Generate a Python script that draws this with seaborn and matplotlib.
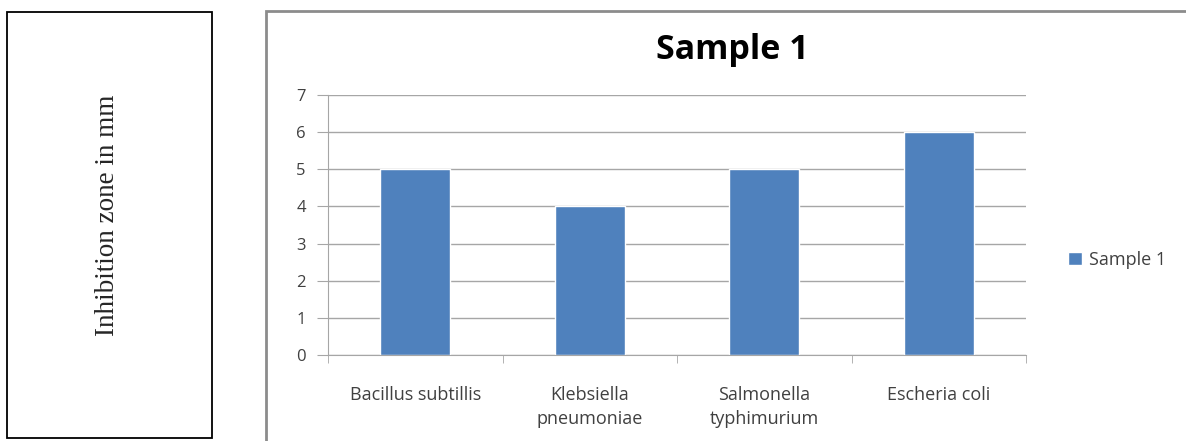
import matplotlib
matplotlib.use("Agg")
import matplotlib.pyplot as plt
import seaborn as sns
import pandas as pd
from matplotlib.patches import Rectangle

organisms = ["Bacillus subtillis", "Klebsiella\npneumoniae",
             "Salmonella\ntyphimurium", "Escheria coli"]
zone_mm = [5, 4, 5, 6]
series_name = "Sample 1"
y_ticks = [0, 1, 2, 3, 4, 5, 6, 7]

df = pd.DataFrame({"organism": organisms, "zone": zone_mm})

sns.set_style("white")
plt.rcParams["font.family"] = ["Open Sans", "DejaVu Sans"]

W, H = 1186, 441
fig = plt.figure(figsize=(W / 100, H / 100), dpi=100)

# left label box
fig.patches.append(Rectangle((7 / W, 1 - 438 / H), 205 / W, 426 / H,
                             transform=fig.transFigure, fill=False,
                             edgecolor="black", linewidth=1.3))
fig.text(107 / W, 1 - 215 / H, "Inhibition zone in mm", rotation=90,
         ha="center", va="center", fontsize=19.5,
         family=["Liberation Serif", "DejaVu Serif"])

# chart frame
fig.patches.append(Rectangle((266 / W, -0.05), 1.0, 1 - 11 / H + 0.05,
                             transform=fig.transFigure, fill=False,
                             edgecolor="#8c8c8c", linewidth=2))

ax = fig.add_axes([328 / W, 86 / H, 698 / W, 260 / H])
sns.barplot(data=df, x="organism", y="zone", color="#4F81BD",
            width=0.4, saturation=1, label=series_name, ax=ax)

ax.set_ylim(0, 7)
ax.set_xlim(-0.5, len(organisms) - 0.5)
ax.set_yticks(y_ticks)
ax.yaxis.grid(True, color="#a6a6a6", linewidth=1)
ax.set_axisbelow(True)
for s in ["top", "right"]:
    ax.spines[s].set_visible(False)
ax.spines["left"].set_color("#a6a6a6")
ax.spines["bottom"].set_color("#a6a6a6")
ax.tick_params(axis="y", left=True, length=8, color="#a6a6a6",
               labelsize=12, labelcolor="#404040", pad=8)
ax.tick_params(axis="x", which="major", length=0, labelsize=13,
               labelcolor="#404040", pad=22)
ax.set_xticks([i - 0.5 for i in range(len(organisms) + 1)], minor=True)
ax.tick_params(axis="x", which="minor", bottom=True, length=6,
               color="#a6a6a6")
for lab in ax.get_xticklabels():
    lab.set_linespacing(1.45)
ax.set_xlabel("")
ax.set_ylabel("")

fig.text(732 / W, 1 - 50 / H, series_name, ha="center", va="center",
         fontsize=24.5, fontweight="bold", color="black")

ax.legend(loc="center left", bbox_to_anchor=(1052 / W, 1 - 260 / H),
          bbox_transform=fig.transFigure, frameon=False, fontsize=13,
          handlelength=0.75, handleheight=0.75, handletextpad=0.4,
          labelcolor="#404040")

fig.savefig("out.png", dpi=100)
